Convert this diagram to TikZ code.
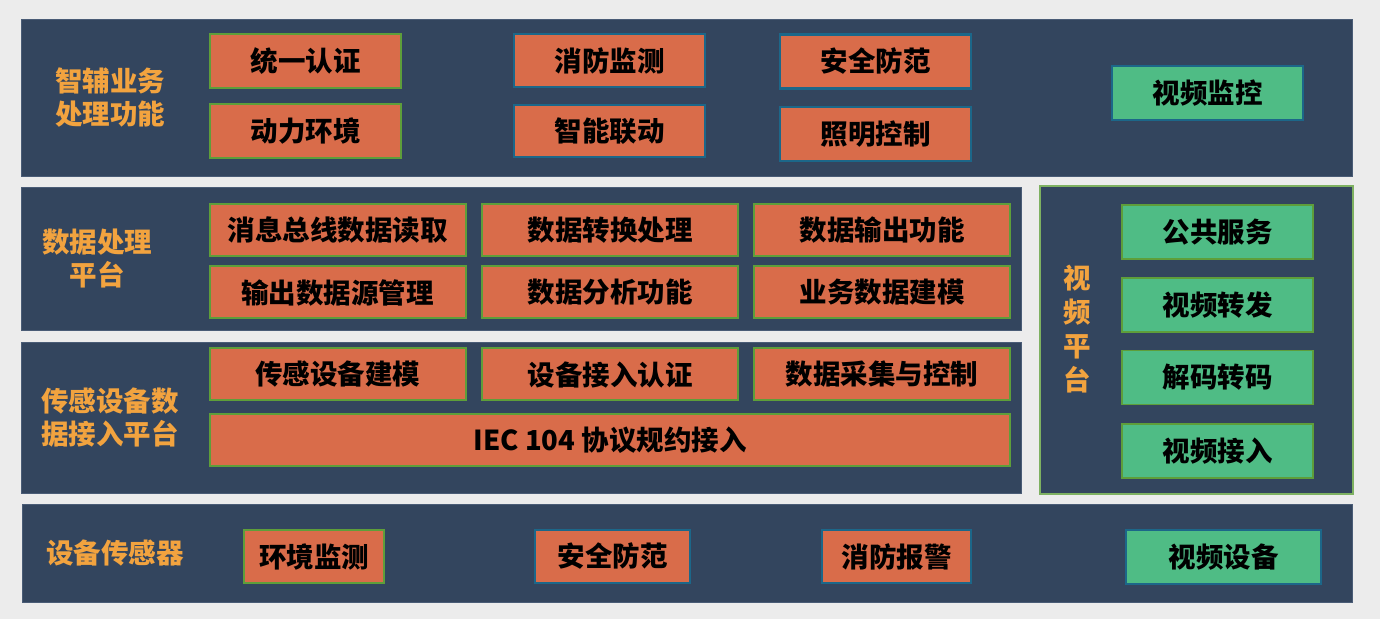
\documentclass[tikz,border=0pt]{standalone}
\usepackage{fontspec}
\setmainfont{Noto Sans CJK SC}
\usetikzlibrary{positioning}
\definecolor{MyBack}{HTML}{ECECEC}
\definecolor{MyNavy}{HTML}{33455E}
\definecolor{MyEdge}{HTML}{4A5C76}
\definecolor{MyOrange}{HTML}{D96C4A}
\definecolor{MyGreen}{HTML}{4FBC85}
\definecolor{MyLeaf}{HTML}{5E9E3A}
\definecolor{MyBlue}{HTML}{1C6789}
\definecolor{MyGold}{HTML}{F2A33F}

\begin{document}
\begin{tikzpicture} [
			x=0.5pt, y=-0.5pt,
			every node/.style={align=center,rectangle,inner sep=0pt,font=\fontsize{13.75}{16.5}\selectfont\bfseries},
			panel/.style={draw=MyEdge,line width=0.4pt,fill=MyNavy},
			layer/.style={text=MyGold},
			func/.style={draw=MyLeaf,line width=1pt,fill=MyOrange,minimum width=128pt,minimum height=26pt},
			task/.style={draw=MyBlue,line width=1.2pt,fill=MyOrange,minimum width=95.5pt,minimum height=27pt},
			video/.style={draw=MyLeaf,line width=0.8pt,fill=MyGreen,minimum width=95.5pt,minimum height=27pt}
		]
			\useasboundingbox (0,0) rectangle (1380,619);
			\fill[MyBack] (0,0) rectangle (1380,619);
			% layers
			\node at (686.5,97.5) [panel,minimum width=665.5pt,minimum height=78.5pt] (apppanel) {};
			\node at (521,258.5) [panel,minimum width=500pt,minimum height=71.5pt] (datapanel) {};
			\node at (521,417.5) [panel,minimum width=500pt,minimum height=75.5pt] (accesspanel) {};
			\node at (687,553) [panel,minimum width=665pt,minimum height=49pt] (sensorpanel) {};
			\node at (1196.5,340) [panel,draw=MyLeaf!80,line width=0.8pt,minimum width=156.5pt,minimum height=154pt] (videopanel) {};
			\node at (110,98) [layer] (appname) {智辅业务\\处理功能};
			\node at (97,259) [layer] (dataname) {数据处理\\平台};
			\node at (110,417.5) [layer] (accessname) {传感设备数\\据接入平台};
			\node at (115,553) [layer] (sensorname) {设备传感器};
			\node at (1077,329) [layer,font=\fontsize{13.75}{17}\selectfont\bfseries] (videoname) {视\\频\\平\\台};
			% applications
			\node at (305.5,61.5) [task,draw=MyLeaf,line width=1pt] (auth) {统一认证};
			\node at (305.5,131.5) [task,draw=MyLeaf,line width=1pt] (power) {动力环境};
			\node at (609.5,60.5) [task,minimum height=26.5pt] (firewatch) {消防监测};
			\node at (609.5,131) [task,minimum height=26pt] (linkage) {智能联动};
			\node at (875.5,61.5) [task] (security) {安全防范};
			\node at (875.5,134) [task] (lighting) {照明控制};
			\node at (1207.5,93) [video,draw=MyBlue,line width=1.2pt] (monitor) {视频监控};
			% data processing
			\node at (337.5,230) [func] (busread) {消息总线数据读取};
			\node at (610,230) [func] (convert) {数据转换处理};
			\node at (882,230) [func] (output) {数据输出功能};
			\node at (337.5,292.5) [func] (sourcemgr) {输出数据源管理};
			\node at (610,292.5) [func] (analysis) {数据分析功能};
			\node at (882,292.5) [func] (modeling) {业务数据建模};
			% sensor access
			\node at (337.5,374.5) [func] (sensormodel) {传感设备建模};
			\node at (610,374.5) [func] (accessauth) {设备接入认证};
			\node at (882,374.5) [func] (collect) {数据采集与控制};
			\node at (610,440) [func,minimum width=400pt] (iec) {IEC 104 协议规约接入};
			% video platform
			\node at (1217.5,232) [video] (public) {公共服务};
			\node at (1217.5,305) [video] (forward) {视频转发};
			\node at (1217.5,377.5) [video] (decode) {解码转码};
			\node at (1217.5,451) [video] (videoin) {视频接入};
			% devices
			\node at (314,556.5) [task,draw=MyLeaf,line width=1pt,minimum width=70pt,minimum height=26.5pt] (envsensor) {环境监测};
			\node at (612.5,556.5) [task,minimum width=77.5pt,minimum height=26.5pt] (secsensor) {安全防范};
			\node at (896.5,556.5) [task,minimum width=74.5pt,minimum height=26.5pt] (firealarm) {消防报警};
			\node at (1223.5,557) [video,draw=MyBlue,line width=1.2pt,minimum width=97.5pt] (camera) {视频设备};
		\end{tikzpicture}
\end{document}
